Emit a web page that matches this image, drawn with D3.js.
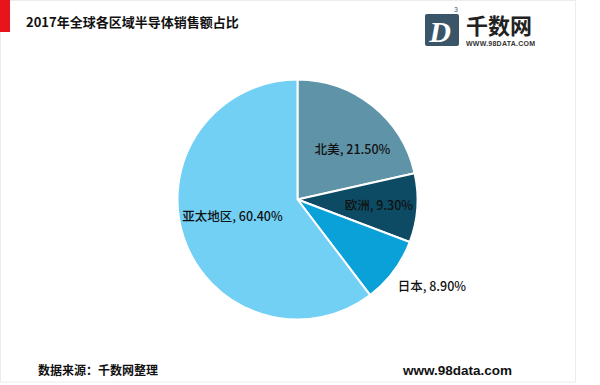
<!DOCTYPE html>
<html>
<head>
<meta charset="utf-8">
<script src="https://cdn.jsdelivr.net/npm/d3@7"></script>
<style>
  body { margin: 0; background: #fff; }
  svg { display: block; }
</style>
</head>
<body>
<div class="chart"></div>
<script>
// data
var regions = ['北美', '欧洲', '日本', '亚太地区'];
var shares = [21.5, 9.3, 8.9, 60.4];
var colors = ['#5e93a8', '#0c4b63', '#0aa1d9', '#72d0f5'];
// label placement: radius as a fraction of the pie radius (>1 means outside)
// and a small angle nudge in degrees, like excel's best fit
var labelR = [0.62, 0.68, 1.14, 0.56];
var labelNudge = [9, 0, 3, 4];

var width = 600,
    height = 385;

var svg = d3.select('.chart').append('svg')
    .attr('width', width)
    .attr('height', height);

// frame
svg.append('rect')
    .attr('x', 0.5).attr('y', 0.5)
    .attr('width', 575).attr('height', 381.5)
    .attr('fill', '#fff')
    .attr('stroke', '#ececec');

svg.append('rect')
    .attr('x', 0).attr('y', 0)
    .attr('width', 10).attr('height', 32)
    .attr('fill', '#e8141b');

// title
svg.append('text')
    .attr('x', 26).attr('y', 27)
    .attr('font-family', '"Noto Sans CJK SC", sans-serif')
    .attr('font-weight', 'bold')
    .attr('font-size', 13)
    .attr('fill', '#111')
    .text('2017年全球各区域半导体销售额占比');

// logo
var logo = svg.append('g');
logo.append('rect')
    .attr('x', 425).attr('y', 14)
    .attr('width', 34).attr('height', 32)
    .attr('rx', 2)
    .attr('fill', '#3b5568');
logo.append('text')
    .attr('x', 440).attr('y', 42)
    .attr('text-anchor', 'middle')
    .attr('font-family', '"Liberation Serif", serif')
    .attr('font-style', 'italic')
    .attr('font-weight', 'bold')
    .attr('font-size', 30)
    .attr('fill', '#fff')
    .text('D');
logo.append('text')
    .attr('x', 454).attr('y', 12)
    .attr('font-family', '"Liberation Sans", sans-serif')
    .attr('font-size', 7)
    .attr('fill', '#3b5568')
    .text('3');
logo.append('text')
    .attr('x', 466).attr('y', 34)
    .attr('font-family', '"Noto Sans CJK SC", sans-serif')
    .attr('font-weight', 'bold')
    .attr('font-size', 22)
    .attr('fill', '#222')
    .text('千数网');
logo.append('text')
    .attr('x', 466).attr('y', 46)
    .attr('textLength', 69)
    .attr('font-family', '"Liberation Sans", sans-serif')
    .attr('font-weight', 'bold')
    .attr('font-size', 7)
    .attr('fill', '#333')
    .text('WWW.98DATA.COM');

// pie
var cx = 297.5, cy = 199.5, r = 120;

var pie = d3.pie()
    .sort(null)
    .value(function(d) { return d; });

var arc = d3.arc()
    .innerRadius(0)
    .outerRadius(r);

var arcs = pie(shares);

var g = svg.append('g')
    .attr('transform', 'translate(' + cx + ',' + cy + ')');

g.selectAll('path')
    .data(arcs)
  .enter().append('path')
    .attr('d', arc)
    .attr('fill', function(d, i) { return colors[i]; })
    .attr('stroke', '#fff')
    .attr('stroke-width', 2);

g.selectAll('text.lbl')
    .data(arcs)
  .enter().append('text')
    .attr('class', 'lbl')
    .attr('transform', function(d, i) {
      var a = (d.startAngle + d.endAngle) / 2 + labelNudge[i] * Math.PI / 180,
          rr = r * labelR[i];
      var x = Math.sin(a) * rr,
          y = -Math.cos(a) * rr;
      if (labelR[i] > 1) x -= 5;
      return 'translate(' + x + ',' + y + ')';
    })
    .attr('dy', '0.35em')
    .attr('text-anchor', function(d, i) { return labelR[i] > 1 ? 'start' : 'middle'; })
    .attr('font-family', '"Noto Sans CJK SC", sans-serif')
    .attr('font-weight', 500)
    .attr('font-size', 12.5)
    .attr('fill', '#111')
    .text(function(d, i) { return regions[i] + ', ' + shares[i].toFixed(2) + '%'; });

// footer
svg.append('text')
    .attr('x', 38).attr('y', 375)
    .attr('font-family', '"Noto Sans CJK SC", sans-serif')
    .attr('font-weight', 'bold')
    .attr('font-size', 12)
    .attr('fill', '#111')
    .text('数据来源：千数网整理');

svg.append('text')
    .attr('x', 403).attr('y', 375)
    .attr('font-family', '"Liberation Sans", Arial, sans-serif')
    .attr('font-weight', 'bold')
    .attr('font-size', 13.5)
    .attr('fill', '#111')
    .text('www.98data.com');
</script>
</body>
</html>
